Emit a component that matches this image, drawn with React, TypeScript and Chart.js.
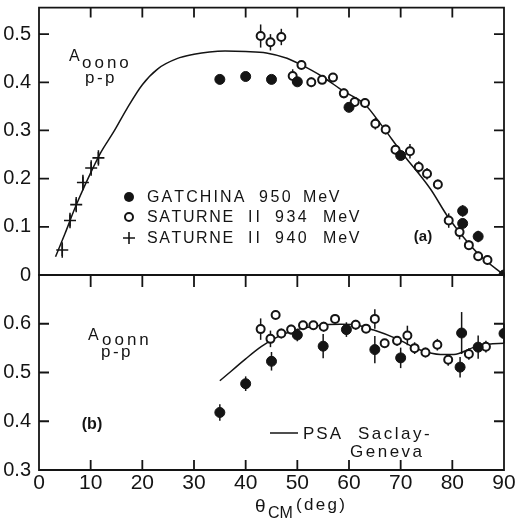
import React, { useEffect, useRef } from 'react';
import { Chart, registerables } from 'chart.js';

Chart.register(...registerables);

// ---------- data ----------
const xTickValues = [0, 10, 20, 30, 40, 50, 60, 70, 80, 90];
const yTicksTop = [0, 0.1, 0.2, 0.3, 0.4, 0.5];
const yTicksBottom = [0.3, 0.4, 0.5, 0.6];

const gatTopX = [35, 40, 45, 50, 60, 70, 82, 82, 85, 90];
const gatTopY = [0.406, 0.412, 0.406, 0.401, 0.348, 0.248, 0.133, 0.107, 0.08, 0.0];
const gatTopE = [0.005, 0.005, 0.005, 0.005, 0.005, 0.008, 0.012, 0.01, 0.012, 0.005];

const sat934TopX = [42.9, 44.8, 46.9, 49.1, 50.8, 52.7, 54.8, 56.9, 59.0, 61.1, 63.1, 65.1, 67.1, 69.0, 71.8, 73.5, 75.1, 77.2, 79.3, 81.4, 83.2, 85.0, 86.8];
const sat934TopY = [0.496, 0.483, 0.494, 0.413, 0.436, 0.4, 0.405, 0.41, 0.377, 0.359, 0.357, 0.314, 0.302, 0.26, 0.257, 0.224, 0.21, 0.188, 0.113, 0.089, 0.062, 0.039, 0.031];
const sat934TopE = [0.024, 0.017, 0.017, 0.014, 0.008, 0.01, 0.008, 0.008, 0.01, 0.01, 0.01, 0.012, 0.01, 0.01, 0.015, 0.012, 0.012, 0.01, 0.015, 0.015, 0.01, 0.01, 0.01];

const sat940TopX = [4.5, 6.0, 7.2, 8.5, 10.1, 11.5];
const sat940TopY = [0.052, 0.113, 0.146, 0.192, 0.222, 0.243];
const sat940TopE = [0.016, 0.016, 0.016, 0.016, 0.016, 0.016];

const psaTopX = [3.2, 5, 7, 10, 12, 14.5, 17, 20, 23, 26.7, 30, 33, 36, 40, 44, 48, 50.6, 54.8, 59, 63, 66.5, 70, 75.8, 79, 82.2, 85.4, 90];
const psaTopY = [0.038, 0.085, 0.14, 0.212, 0.255, 0.298, 0.345, 0.395, 0.428, 0.449, 0.458, 0.463, 0.465, 0.464, 0.461, 0.45, 0.437, 0.412, 0.381, 0.355, 0.308, 0.257, 0.178, 0.123, 0.078, 0.04, 0.0];

const gatBotX = [35, 40, 45, 50, 55, 59.5, 65, 70, 81.5, 81.8, 85, 90];
const gatBotY = [0.418, 0.477, 0.523, 0.577, 0.554, 0.588, 0.547, 0.53, 0.511, 0.581, 0.552, 0.58];
const gatBotE = [0.017, 0.015, 0.019, 0.013, 0.025, 0.015, 0.028, 0.021, 0.021, 0.043, 0.024, 0.02];

const sat934BotX = [42.9, 44.8, 45.8, 46.9, 48.8, 51.1, 53.1, 55.1, 57.3, 61.3, 63.3, 65.0, 66.9, 69.3, 71.3, 72.7, 74.8, 77.1, 79.2, 83.2, 86.5];
const sat934BotY = [0.589, 0.569, 0.618, 0.58, 0.588, 0.597, 0.597, 0.594, 0.61, 0.598, 0.59, 0.61, 0.56, 0.565, 0.576, 0.55, 0.541, 0.557, 0.526, 0.538, 0.553];
const sat934BotE = [0.022, 0.017, 0.008, 0.01, 0.01, 0.008, 0.008, 0.01, 0.008, 0.01, 0.008, 0.02, 0.008, 0.01, 0.02, 0.012, 0.01, 0.012, 0.012, 0.012, 0.012];

const psaBotX = [35, 38, 40, 43, 46, 49.3, 53.8, 58.4, 61, 64.8, 69.3, 73.8, 77.7, 80.3, 84, 87, 90];
const psaBotY = [0.483, 0.51, 0.528, 0.553, 0.572, 0.586, 0.596, 0.599, 0.598, 0.587, 0.569, 0.546, 0.537, 0.537, 0.551, 0.558, 0.56];

// ---------- helpers ----------
const ink = '#141414';
const FONT = '"Liberation Sans", Arial, sans-serif';

function pts(xs: number[], ys: number[]) {
  return xs.map((x, i) => ({ x, y: ys[i] }));
}

function txt(ctx: CanvasRenderingContext2D, s: string, x: number, y: number, size: number, o: any = {}) {
  ctx.save();
  ctx.font = `${o.weight || 'normal'} ${size}px ${FONT}`;
  ctx.fillStyle = ink;
  ctx.textAlign = o.align || 'left';
  ctx.textBaseline = o.base || 'alphabetic';
  ctx.fillText(s, x, y);
  ctx.restore();
}

function spaced(ctx: CanvasRenderingContext2D, s: string, x: number, y: number, size: number, gap: number) {
  ctx.save();
  ctx.font = `normal ${size}px ${FONT}`;
  ctx.fillStyle = ink;
  ctx.textAlign = 'left';
  ctx.textBaseline = 'alphabetic';
  let cx = x;
  for (const ch of s) {
    ctx.fillText(ch, cx, y);
    cx += ctx.measureText(ch).width + gap;
  }
  ctx.restore();
}

function drawErrors(chart: any) {
  const ctx: CanvasRenderingContext2D = chart.ctx;
  const ys = chart.scales.y;
  ctx.save();
  ctx.strokeStyle = ink;
  ctx.lineWidth = 1.5;
  chart.data.datasets.forEach((ds: any, di: number) => {
    if (!ds.errs) return;
    const meta = chart.getDatasetMeta(di);
    meta.data.forEach((el: any, i: number) => {
      const d = ds.data[i];
      const e = ds.errs[i];
      ctx.beginPath();
      ctx.moveTo(el.x, ys.getPixelForValue(d.y + e));
      ctx.lineTo(el.x, ys.getPixelForValue(d.y - e));
      ctx.stroke();
    });
  });
  ctx.restore();
}

function pixelOf(scale: any, v: number, lo: number, hi: number, horizontal: boolean) {
  let p = scale.getPixelForValue(v);
  if (!Number.isFinite(p)) {
    const f = (v - scale.min) / (scale.max - scale.min);
    p = horizontal ? lo + f * (hi - lo) : hi - f * (hi - lo);
  }
  return p;
}

function drawFrame(chart: any, isTop: boolean, yTicks: number[]) {
  const ctx: CanvasRenderingContext2D = chart.ctx;
  const a = chart.chartArea;
  const x = chart.scales.x;
  const y = chart.scales.y;
  ctx.save();
  ctx.setTransform(1, 0, 0, 1, 0, 0);
  ctx.globalAlpha = 1;
  ctx.globalCompositeOperation = 'source-over';
  ctx.setLineDash([]);
  ctx.strokeStyle = ink;
  ctx.lineWidth = 1.8;
  ctx.beginPath();
  // frame
  ctx.moveTo(a.left, a.top);
  ctx.lineTo(a.right, a.top);
  ctx.lineTo(a.right, a.bottom);
  ctx.lineTo(a.left, a.bottom);
  ctx.closePath();
  // inward x ticks
  for (let i = 1; i < xTickValues.length - 1; i++) {
    const px = pixelOf(x, xTickValues[i], a.left, a.right, true);
    ctx.moveTo(px, a.top);
    ctx.lineTo(px, a.top + (isTop ? 10 : 12));
    if (!isTop) {
      ctx.moveTo(px, a.bottom);
      ctx.lineTo(px, a.bottom - 10);
    }
  }
  // inward y ticks
  for (let i = 0; i < yTicks.length; i++) {
    const py = pixelOf(y, yTicks[i], a.top, a.bottom, false);
    if (py >= a.bottom - 2 || py <= a.top + 2) continue;
    ctx.moveTo(a.left, py);
    ctx.lineTo(a.left + 10, py);
    ctx.moveTo(a.right, py);
    ctx.lineTo(a.right - 10, py);
  }
  ctx.stroke();
  ctx.restore();
}

function drawTopNotes(ctx: CanvasRenderingContext2D) {
  txt(ctx, 'A', 69, 61, 16);
  spaced(ctx, 'oono', 82, 68, 17, 3);
  spaced(ctx, 'p-p', 85, 83, 17, 2.5);

  ctx.save();
  ctx.fillStyle = ink;
  ctx.strokeStyle = ink;
  ctx.beginPath();
  ctx.arc(129, 197, 5, 0, Math.PI * 2);
  ctx.fill();
  ctx.lineWidth = 2;
  ctx.beginPath();
  ctx.arc(129, 217, 4, 0, Math.PI * 2);
  ctx.stroke();
  ctx.lineWidth = 1.6;
  ctx.beginPath();
  ctx.moveTo(123, 238);
  ctx.lineTo(135, 238);
  ctx.moveTo(129, 232);
  ctx.lineTo(129, 244);
  ctx.stroke();
  ctx.restore();

  spaced(ctx, 'GATCHINA', 147, 202, 16, 2.1);
  spaced(ctx, '950', 259, 202, 16, 2.5);
  spaced(ctx, 'MeV', 303, 202, 16, 1.8);
  spaced(ctx, 'SATURNE', 147, 222, 16, 1.6);
  spaced(ctx, 'II', 248, 222, 16, 3);
  spaced(ctx, '934', 275, 222, 16, 2.5);
  spaced(ctx, 'MeV', 323, 222, 16, 1.8);
  spaced(ctx, 'SATURNE', 147, 243, 16, 1.6);
  spaced(ctx, 'II', 248, 243, 16, 3);
  spaced(ctx, '940', 275, 243, 16, 2.5);
  spaced(ctx, 'MeV', 323, 243, 16, 1.8);

  txt(ctx, '(a)', 423, 237, 15, { weight: 'bold', align: 'center', base: 'middle' });
}

function drawBottomNotes(ctx: CanvasRenderingContext2D) {
  txt(ctx, 'A', 88, 340, 16);
  spaced(ctx, 'oonn', 102, 345, 17, 3);
  spaced(ctx, 'p-p', 101, 357, 17, 2.5);
  txt(ctx, '(b)', 92, 425, 16, { weight: 'bold', align: 'center', base: 'middle' });

  ctx.save();
  ctx.strokeStyle = ink;
  ctx.lineWidth = 1.5;
  ctx.beginPath();
  ctx.moveTo(270, 433);
  ctx.lineTo(298, 433);
  ctx.stroke();
  ctx.restore();
  spaced(ctx, 'PSA', 303, 439, 17, 2);
  spaced(ctx, 'Saclay-', 358, 439, 17, 2.5);
  spaced(ctx, 'Geneva', 350, 457, 17, 2.5);

  txt(ctx, 'θ', 255, 512, 19);
  txt(ctx, 'CM', 268, 518, 16);
  spaced(ctx, '(deg)', 296, 510, 17, 2.3);
}

function pointSets(gX: number[], gY: number[], gE: number[], sX: number[], sY: number[], sE: number[]) {
  return [
    {
      label: 'GATCHINA 950 MeV',
      data: pts(gX, gY),
      errs: gE,
      pointStyle: 'circle',
      pointRadius: 5,
      backgroundColor: ink,
      borderColor: ink,
      borderWidth: 1,
    },
    {
      label: 'SATURNE II 934 MeV',
      data: pts(sX, sY),
      errs: sE,
      pointStyle: 'circle',
      pointRadius: 4,
      backgroundColor: '#ffffff',
      borderColor: ink,
      borderWidth: 2,
    },
  ];
}

function curveSet(xs: number[], ys: number[]) {
  return {
    label: 'PSA Saclay-Geneva',
    data: pts(xs, ys),
    showLine: true,
    pointRadius: 0,
    borderColor: ink,
    backgroundColor: ink,
    borderWidth: 1.5,
    cubicInterpolationMode: 'monotone',
  };
}

function makeConfig(isTop: boolean): any {
  const datasets: any[] = isTop
    ? [
        ...pointSets(gatTopX, gatTopY, gatTopE, sat934TopX, sat934TopY, sat934TopE),
        {
          label: 'SATURNE II 940 MeV',
          data: pts(sat940TopX, sat940TopY),
          errs: sat940TopE,
          pointStyle: 'cross',
          pointRadius: 6,
          borderColor: ink,
          borderWidth: 1.6,
        },
        curveSet(psaTopX, psaTopY),
      ]
    : [...pointSets(gatBotX, gatBotY, gatBotE, sat934BotX, sat934BotY, sat934BotE), curveSet(psaBotX, psaBotY)];

  const yTicks = isTop ? yTicksTop : yTicksBottom;

  return {
    type: 'scatter',
    data: { datasets },
    options: {
      responsive: false,
      animation: false,
      events: [],
      devicePixelRatio: 1,
      layout: {
        padding: isTop ? { top: 6, right: 13, bottom: 248, left: 0 } : { top: 275, right: 13, bottom: 0, left: 0 },
      },
      scales: {
        x: {
          type: 'linear',
          min: 0,
          max: 90,
          display: !isTop,
          grid: { display: false, drawTicks: false },
          border: { display: false },
          afterBuildTicks: (s: any) => {
            s.ticks = xTickValues.map((v) => ({ value: v }));
          },
          afterFit: (s: any) => {
            s.height = isTop ? 0 : 53;
            s.paddingLeft = 0;
            s.paddingRight = 0;
          },
          ticks: {
            padding: 1,
            color: ink,
            maxRotation: 0,
            autoSkip: false,
            font: { family: FONT, size: 21 },
            callback: (v: any) => String(v),
          },
        },
        y: {
          type: 'linear',
          min: isTop ? 0 : 0.3,
          max: isTop ? 0.555 : 0.7,
          grid: { display: false, drawTicks: false },
          border: { display: false },
          afterBuildTicks: (s: any) => {
            s.ticks = yTicks.map((v) => ({ value: v }));
          },
          afterFit: (s: any) => {
            s.width = 39;
            s.paddingTop = 0;
            s.paddingBottom = 0;
          },
          ticks: {
            padding: 8,
            color: ink,
            autoSkip: false,
            font: { family: FONT, size: 20 },
            callback: (v: any) => (v === 0 ? '0' : Number(v).toFixed(1)),
          },
        },
      },
      plugins: {
        legend: { display: false },
        tooltip: { enabled: false },
      },
    },
    plugins: [
      {
        id: isTop ? 'decoTop' : 'decoBottom',
        beforeDatasetsDraw(chart: any) {
          drawErrors(chart);
        },
        afterDraw(chart: any) {
          drawFrame(chart, isTop, yTicks);
          if (isTop) drawTopNotes(chart.ctx);
          else drawBottomNotes(chart.ctx);
        },
      },
    ],
  };
}

export default function App() {
  const topRef = useRef<HTMLCanvasElement | null>(null);
  const botRef = useRef<HTMLCanvasElement | null>(null);

  useEffect(() => {
    document.body.style.margin = '0';
    const charts: Chart[] = [];
    if (botRef.current) charts.push(new Chart(botRef.current, makeConfig(false)));
    if (topRef.current) charts.push(new Chart(topRef.current, makeConfig(true)));
    return () => charts.forEach((c) => c.destroy());
  }, []);

  const cs: React.CSSProperties = { position: 'absolute', left: 0, top: 0, width: 517, height: 523 };
  return (
    <div style={{ position: 'relative', width: 517, height: 523 }}>
      <canvas ref={botRef} width={517} height={523} style={cs} />
      <canvas ref={topRef} width={517} height={523} style={cs} />
    </div>
  );
}
